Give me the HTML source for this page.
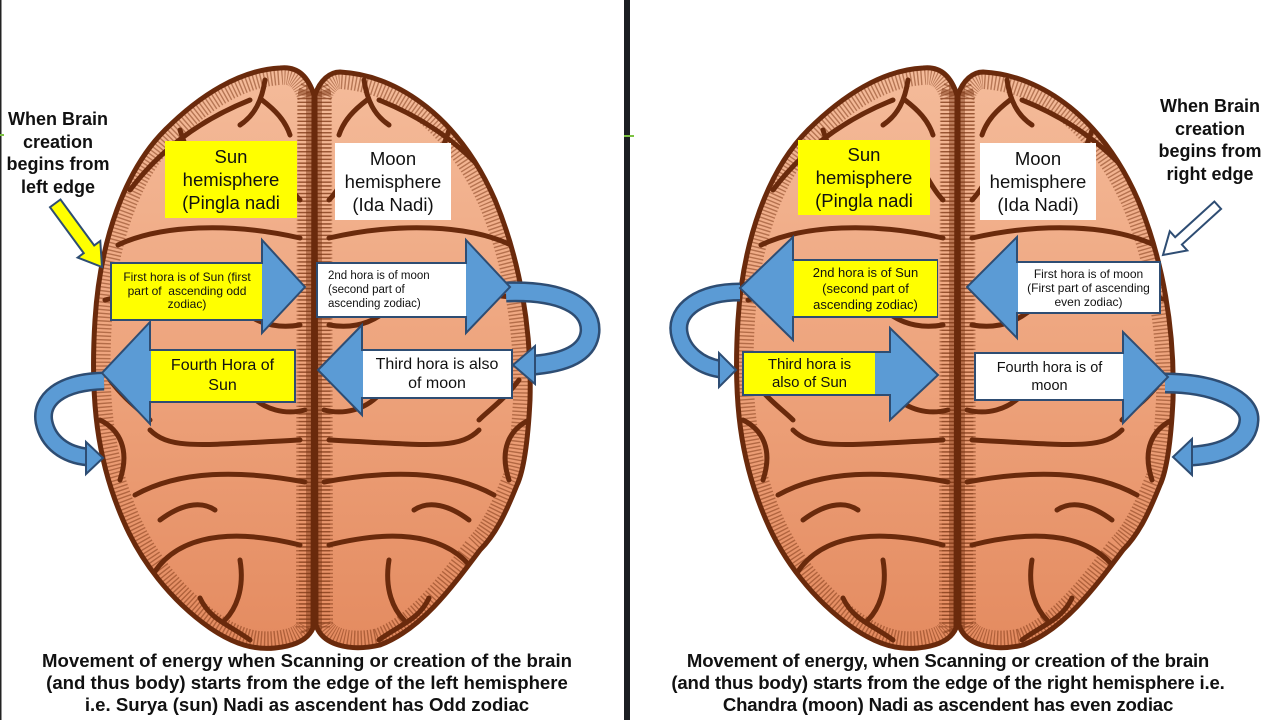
<!DOCTYPE html>
<html><head><meta charset="utf-8">
<style>
html,body{margin:0;padding:0;background:#fff;}
body{width:1280px;height:720px;position:relative;overflow:hidden;font-family:"Liberation Sans",Arial,sans-serif;color:#111;}
.b{position:absolute;display:flex;align-items:center;justify-content:center;text-align:center;box-sizing:border-box;}
.y{background:#ffff00;}
.w{background:#fff;}
.t{position:absolute;text-align:center;font-weight:bold;}
</style></head><body>
<svg width="1280" height="720" style="position:absolute;left:0;top:0" xmlns="http://www.w3.org/2000/svg">
<defs>
<linearGradient id="bg" x1="0" y1="0" x2="0" y2="1">
<stop offset="0" stop-color="#f4bb9a"/><stop offset="0.5" stop-color="#eea47d"/><stop offset="1" stop-color="#e48b60"/>
</linearGradient>
<path id="LH" d="M314 95 C308 76 297 66 280 68 C240 70 200 95 165 130 C125 170 100 240 95 320 C90 400 97 460 123 520 C140 560 170 600 210 628 C235 645 255 650 275 648 C295 646 308 640 313 628 Z"/>
<path id="RH" d="M315 95 C320 80 330 72 340 72 C400 75 460 120 495 200 C520 260 532 330 530 400 C528 440 524 470 517 485 C505 515 495 535 480 550 C450 590 420 630 380 645 C350 652 322 645 316 625 Z"/>
<clipPath id="cl"><use href="#LH"/><use href="#RH"/></clipPath>
<g id="sulc" fill="none" stroke="#6a2a0c" stroke-width="5" stroke-linecap="round">
<path d="M130 190 C160 150 200 120 250 100"/>
<path d="M265 80 C262 100 255 115 240 125 M262 100 C275 110 285 120 290 135"/>
<path d="M180 130 C190 160 200 180 195 210"/>
<path d="M118 245 C160 225 230 222 300 238"/>
<path d="M105 300 C140 290 170 300 200 300"/>
<path d="M230 300 C250 320 270 330 300 325"/>
<path d="M150 430 C170 450 200 445 300 440"/>
<path d="M100 420 C120 430 130 450 120 480"/>
<path d="M135 495 C180 470 240 470 305 482"/>
<path d="M150 580 C170 540 220 525 300 545"/>
<path d="M200 598 C210 620 230 625 250 640"/>
<path d="M240 560 C245 590 235 610 225 620"/>
<path d="M110 380 C125 400 140 410 150 420"/>
<path d="M215 150 C230 170 240 190 270 200"/>
<path d="M270 150 C280 170 290 190 300 200"/>
<path d="M160 520 C180 505 200 500 215 510"/>
<path d="M250 395 C265 410 285 415 305 410"/>
</g>
<g id="brain">
<use href="#LH" fill="url(#bg)"/>
<use href="#RH" fill="url(#bg)"/>
<g clip-path="url(#cl)">
<use href="#LH" fill="none" stroke="#7a3412" stroke-width="34" stroke-dasharray="1.4 2.4" opacity="0.5"/>
<use href="#RH" fill="none" stroke="#7a3412" stroke-width="34" stroke-dasharray="1.4 2.4" opacity="0.5"/>
<use href="#sulc"/>
<use href="#sulc" transform="translate(629,0) scale(-1,1)"/>
<rect x="306" y="60" width="16" height="600" fill="#7a3613" opacity="0.45"/>
<rect x="312" y="60" width="4" height="600" fill="#5a220a"/>
</g>
<use href="#LH" fill="none" stroke="#6a2a0c" stroke-width="5"/>
<use href="#RH" fill="none" stroke="#6a2a0c" stroke-width="5"/>
</g>
</defs>
<use href="#brain"/>
<use href="#brain" transform="translate(643,0)"/>

<rect x="0" y="0" width="1.5" height="720" fill="#222"/>
<rect x="0" y="134" width="4" height="2" fill="#7cc242"/>
<rect x="624" y="0" width="6" height="720" fill="#1b1e22"/>
<rect x="624" y="135" width="10" height="2" fill="#7cc242"/>

<g stroke="#2e4d73" stroke-width="2" stroke-linejoin="miter">
<g fill="none">
<path d="M506 292 C560 290 592 305 590 332 C588 352 568 362 535 365" stroke="#2e4d73" stroke-width="21"/>
<path d="M506 292 C560 290 592 305 590 332 C588 352 568 362 535 365" stroke="#5b9bd5" stroke-width="16"/>
<path d="M104 381 C60 382 40 400 44 422 C48 442 65 455 88 457" stroke="#2e4d73" stroke-width="19"/>
<path d="M104 381 C60 382 40 400 44 422 C48 442 65 455 88 457" stroke="#5b9bd5" stroke-width="14"/>
<path d="M740 292 C700 292 676 310 679 332 C682 352 700 366 720 369" stroke="#2e4d73" stroke-width="19"/>
<path d="M740 292 C700 292 676 310 679 332 C682 352 700 366 720 369" stroke="#5b9bd5" stroke-width="14"/>
<path d="M1165 383 C1215 383 1250 400 1249 420 C1248 442 1225 454 1192 456" stroke="#2e4d73" stroke-width="21"/>
<path d="M1165 383 C1215 383 1250 400 1249 420 C1248 442 1225 454 1192 456" stroke="#5b9bd5" stroke-width="16"/>
</g>
<g fill="#5b9bd5">
<polygon points="513,365 535,346 535,384"/>
<polygon points="103,458 86,442 86,474"/>
<polygon points="736,370 719,353 719,387"/>
<polygon points="1173,457 1192,439 1192,475"/>
<polygon points="111,263 262,263 262,240 305,287 262,333 262,320 111,320"/>
<polygon points="317,263 466,263 466,240 510,287 466,333 466,317 317,317"/>
<polygon points="512,350 362,350 362,325 318,370 362,415 362,398 512,398"/>
<polygon points="295,350 150,350 150,322 102,373 150,424 150,402 295,402"/>
<polygon points="937,260 793,260 793,237 740,288 793,340 793,317 937,317"/>
<polygon points="1160,262 1017,262 1017,237 967,287 1017,338 1017,313 1160,313"/>
<polygon points="743,352 890,352 890,328 938,375 890,420 890,395 743,395"/>
<polygon points="975,353 1123,353 1123,332 1168,377 1123,423 1123,400 975,400"/>
</g>
<polygon transform="translate(102,267) rotate(53.7)" fill="#ffff00" stroke="#2e4d73" stroke-width="2" points="-79,-6.5 -22,-6.5 -22,-14 0,0 -22,14 -22,6.5 -79,6.5"/>
<polygon transform="translate(1163,255) rotate(137.7)" fill="#ffffff" stroke="#2e4d73" stroke-width="2" points="-74,-5 -21,-5 -21,-13 0,0 -21,13 -21,5 -74,5"/>
</g>
</svg>

<!-- Left panel texts -->
<div class="t" style="left:0;top:108px;width:116px;font-size:18px;line-height:22.5px;">When Brain<br>creation<br>begins from<br>left edge</div>
<div class="b y" style="left:165px;top:141px;width:132px;height:77px;font-size:18.5px;line-height:23px;">Sun<br>hemisphere<br>(Pingla nadi</div>
<div class="b w" style="left:335px;top:143px;width:116px;height:77px;font-size:18.5px;line-height:23px;">Moon<br>hemisphere<br>(Ida Nadi)</div>
<div class="b y" style="left:112px;top:264px;width:150px;height:55px;font-size:12px;line-height:13.5px;">First hora is of Sun (first<br>part of&nbsp; ascending odd<br>zodiac)</div>
<div class="b w" style="left:318px;top:264px;width:148px;height:52px;font-size:11.5px;line-height:14px;justify-content:flex-start;text-align:left;padding-left:10px;">2nd hora is of moon<br>(second part of<br>ascending zodiac)</div>
<div class="b w" style="left:363px;top:351px;width:148px;height:46px;font-size:16px;line-height:19px;">Third hora is also<br>of moon</div>
<div class="b y" style="left:151px;top:351px;width:143px;height:50px;font-size:16px;line-height:20px;">Fourth Hora of<br>Sun</div>
<div class="t" style="left:-3px;top:650px;width:620px;font-size:18.6px;line-height:22px;">Movement of energy when Scanning or creation of the brain<br>(and thus body) starts from the edge of the left hemisphere<br>i.e. Surya (sun) Nadi as ascendent has Odd zodiac</div>

<!-- Right panel texts -->
<div class="t" style="left:1150px;top:95px;width:120px;font-size:18px;line-height:22.5px;">When Brain<br>creation<br>begins from<br>right edge</div>
<div class="b y" style="left:798px;top:140px;width:132px;height:75px;font-size:18.5px;line-height:23px;">Sun<br>hemisphere<br>(Pingla nadi</div>
<div class="b w" style="left:980px;top:143px;width:116px;height:77px;font-size:18.5px;line-height:23px;">Moon<br>hemisphere<br>(Ida Nadi)</div>
<div class="b y" style="left:794px;top:261px;width:143px;height:55px;font-size:13px;line-height:16px;">2nd hora is of Sun<br>(second part of<br>ascending zodiac)</div>
<div class="b w" style="left:1018px;top:263px;width:141px;height:49px;font-size:12px;line-height:14px;">First hora is of moon<br>(First part of ascending<br>even zodiac)</div>
<div class="b y" style="left:744px;top:353px;width:131px;height:41px;font-size:15px;line-height:18px;">Third hora is<br>also of Sun</div>
<div class="b w" style="left:976px;top:354px;width:147px;height:45px;font-size:14.5px;line-height:18px;">Fourth hora is of<br>moon</div>
<div class="t" style="left:638px;top:650px;width:620px;font-size:18.6px;line-height:22px;letter-spacing:-0.2px;">Movement of energy, when Scanning or creation of the brain<br>(and thus body) starts from the edge of the right hemisphere i.e.<br>Chandra (moon) Nadi as ascendent has even zodiac</div>
</body></html>
